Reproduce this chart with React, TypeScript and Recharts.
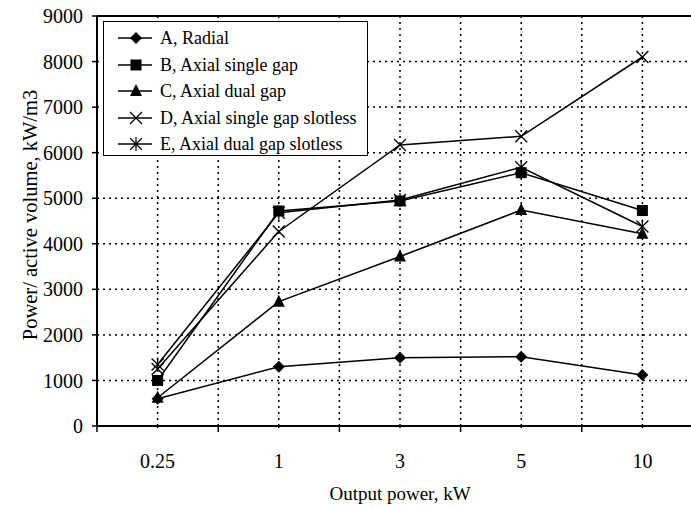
import { LineChart, Line, XAxis, YAxis, CartesianGrid, ReferenceLine } from "recharts";

// values
const categories = ["0.25", "1", "3", "5", "10"];
const radial = [600, 1300, 1500, 1520, 1120];
const axialSingle = [1000, 4720, 4940, 5560, 4730];
const axialDual = [620, 2730, 3720, 4740, 4220];
const singleSlotless = [1250, 4270, 6170, 6360, 8100];
const dualSlotless = [1350, 4680, 4960, 5680, 4380];
const yTicks = [0, 1000, 2000, 3000, 4000, 5000, 6000, 7000, 8000, 9000];

const FONT = "'Liberation Serif', 'Times New Roman', serif";
const W = 710;
const H = 507;
const MARGIN = { top: 16, right: 7, left: 37, bottom: 41 };
const Y_AXIS_W = 60;
const BAND = (W - MARGIN.left - MARGIN.right - Y_AXIS_W) / categories.length;

type MarkerKind = "diamond" | "square" | "triangle" | "cross" | "star";

function Marker({ kind, cx, cy }: { kind: MarkerKind; cx: number; cy: number }) {
  const s = 6;
  switch (kind) {
    case "diamond":
      return <polygon points={`${cx},${cy - s} ${cx + s},${cy} ${cx},${cy + s} ${cx - s},${cy}`} fill="#000" />;
    case "square":
      return <rect x={cx - 5.5} y={cy - 5.5} width={11} height={11} fill="#000" />;
    case "triangle":
      return <polygon points={`${cx},${cy - s - 1} ${cx + s},${cy + s - 1} ${cx - s},${cy + s - 1}`} fill="#000" />;
    case "cross":
      return (
        <g stroke="#000" strokeWidth={1.3}>
          <line x1={cx - s} y1={cy - s} x2={cx + s} y2={cy + s} />
          <line x1={cx - s} y1={cy + s} x2={cx + s} y2={cy - s} />
        </g>
      );
    case "star":
      return (
        <g stroke="#000" strokeWidth={1.3}>
          <line x1={cx - s} y1={cy - s} x2={cx + s} y2={cy + s} />
          <line x1={cx - s} y1={cy + s} x2={cx + s} y2={cy - s} />
          <line x1={cx} y1={cy - s - 1} x2={cx} y2={cy + s + 1} />
        </g>
      );
  }
}

const SERIES: { key: string; name: string; marker: MarkerKind; values: number[] }[] = [
  { key: "a", name: "A, Radial", marker: "diamond", values: radial },
  { key: "b", name: "B, Axial single gap", marker: "square", values: axialSingle },
  { key: "c", name: "C, Axial dual gap", marker: "triangle", values: axialDual },
  { key: "d", name: "D, Axial single gap slotless", marker: "cross", values: singleSlotless },
  { key: "e", name: "E, Axial dual gap slotless", marker: "star", values: dualSlotless },
];

const data = categories.map((c, i) => {
  const row: Record<string, string | number> = { power: c };
  SERIES.forEach((s) => (row[s.key] = s.values[i]));
  return row;
});

function XTick(props: any) {
  const { x, y, payload } = props;
  return (
    <g>
      <line x1={x - BAND / 2} y1={y - 8} x2={x - BAND / 2} y2={y - 2} stroke="#000" strokeWidth={1.5} />
      <line x1={x} y1={y - 8} x2={x} y2={y - 6} stroke="#000" strokeWidth={1.5} />
      <text x={x} y={y + 34} textAnchor="middle" fontFamily={FONT} fontSize={20} fill="#000">
        {payload.value}
      </text>
    </g>
  );
}

function YLabel(props: any) {
  const { viewBox } = props;
  const x = viewBox.x - 7;
  const y = viewBox.y + viewBox.height / 2 - 6;
  return (
    <text x={x} y={y} transform={`rotate(-90, ${x}, ${y})`} textAnchor="middle" dominantBaseline="central" fontFamily={FONT} fontSize={20.5} fill="#000">
      Power/ active volume, kW/m3
    </text>
  );
}

function XLabel(props: any) {
  const { viewBox } = props;
  return (
    <text x={viewBox.x + viewBox.width / 2} y={viewBox.y + 67} textAnchor="middle" dominantBaseline="central" fontFamily={FONT} fontSize={19} fill="#000">
      Output power, kW
    </text>
  );
}

function LegendBox() {
  return (
    <div
      style={{
        position: "absolute",
        left: 103,
        top: 21,
        width: 265,
        height: 135,
        border: "1.5px solid #000",
        background: "#fff",
        fontFamily: FONT,
        fontSize: 18,
        color: "#000",
        paddingTop: 3,
        boxSizing: "border-box",
      }}
    >
      {SERIES.map((s) => (
        <div key={s.key} style={{ display: "flex", alignItems: "center", height: 26.5 }}>
          <svg width={56} height={20} style={{ flex: "none" }}>
            <line x1={14} y1={10} x2={48} y2={10} stroke="#000" strokeWidth={1.5} />
            <Marker kind={s.marker} cx={32} cy={10} />
          </svg>
          <span style={{ whiteSpace: "nowrap", lineHeight: "26px" }}>{s.name}</span>
        </div>
      ))}
    </div>
  );
}

export default function App() {
  return (
    <div style={{ position: "absolute", left: 0, top: 0, width: 691, height: 507, overflow: "hidden", background: "#fff" }}>
      <LineChart width={W} height={H} data={data} margin={MARGIN}>
        <CartesianGrid
          stroke="#000"
          strokeWidth={1.5}
          strokeDasharray="2 4"
          verticalCoordinatesGenerator={({ offset }: any) =>
            Array.from({ length: categories.length * 2 + 1 }, (_, i) => offset.left + (i * offset.width) / (categories.length * 2))
          }
        />
        <XAxis
          dataKey="power"
          scale="band"
          axisLine={{ stroke: "#000", strokeWidth: 2 }}
          tickLine={false}
          tick={<XTick />}
          height={40}
          label={<XLabel />}
        />
        <YAxis
          domain={[0, 9000]}
          ticks={yTicks}
          width={Y_AXIS_W}
          axisLine={{ stroke: "#000", strokeWidth: 2 }}
          tickLine={{ stroke: "#000", strokeWidth: 1.5 }}
          tickSize={5}
          tickMargin={9}
          tick={{ fontFamily: FONT, fontSize: 20, fill: "#000" }}
          label={<YLabel />}
        />
        <ReferenceLine y={9000} stroke="#000" strokeWidth={2} />
        {SERIES.map((s) => (
          <Line
            key={s.key}
            dataKey={s.key}
            name={s.name}
            stroke="#000"
            strokeWidth={1.5}
            isAnimationActive={false}
            dot={(p: any) => <Marker key={`${s.key}-${p.index}`} kind={s.marker} cx={p.cx} cy={p.cy} />}
            activeDot={false}
          />
        ))}
      </LineChart>
      <LegendBox />
    </div>
  );
}
